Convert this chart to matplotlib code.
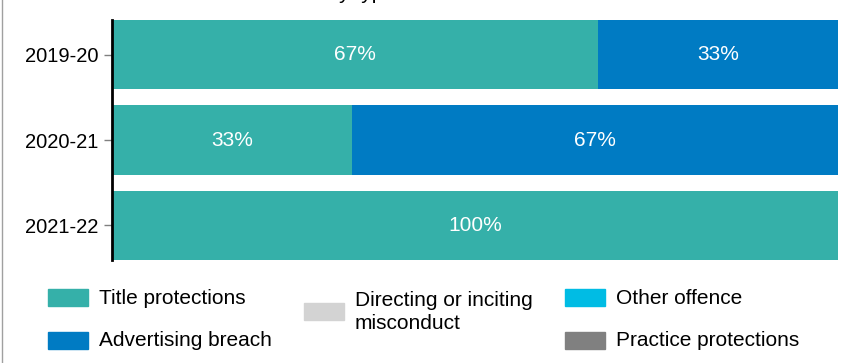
import matplotlib.pyplot as plt
from matplotlib.patches import Rectangle
from matplotlib.lines import Line2D

plt.rcParams['font.family'] = ['Liberation Sans', 'DejaVu Sans']

years = ['2019-20', '2020-21', '2021-22']
title_protections = [67, 33, 100]
advertising_breach = [33, 67, 0]
directing_misconduct = [0, 0, 0]
other_offence = [0, 0, 0]
practice_protections = [0, 0, 0]

series = [
    ('Title protections', title_protections, '#35b0a9'),
    ('Advertising breach', advertising_breach, '#007bc3'),
    ('Directing or inciting\nmisconduct', directing_misconduct, '#d3d3d3'),
    ('Other offence', other_offence, '#00bce4'),
    ('Practice protections', practice_protections, '#808080'),
]


def draw_chart():
    fig = plt.figure(figsize=(8.54, 3.63), dpi=100, facecolor='white')
    ax = fig.add_axes([112 / 854, 1 - 260 / 363, 726 / 854, 240 / 363])

    pos = list(range(len(years)))
    left = [0] * len(years)
    for name, vals, color in series:
        bars = ax.barh(pos, vals, left=left, height=0.81, color=color,
                       edgecolor='none')
        for b, v in zip(bars, vals):
            if v > 0:
                ax.text(b.get_x() + b.get_width() / 2, b.get_y() + b.get_height() / 2,
                        '%d%%' % v, ha='center', va='center', color='white',
                        fontsize=15)
        left = [l + v for l, v in zip(left, vals)]

    ax.set_xlim(0, 100)
    ax.set_ylim(2.405, -0.405)
    ax.set_yticks(pos)
    ax.set_yticklabels(years, fontsize=14.5)
    ax.set_xticks([])
    for s in ['top', 'right', 'bottom']:
        ax.spines[s].set_visible(False)
    ax.spines['left'].set_linewidth(2)
    ax.spines['left'].set_color('black')
    ax.tick_params(axis='y', length=6, width=1, color='#808080', pad=4)

    # legend drawn by hand, three columns
    w, h = 40 / 854, 17 / 363
    items = [
        (48, 297, 0), (48, 340, 1),
        (304, 311, 2),
        (565, 297, 3), (565, 340, 4),
    ]
    for px, py, i in items:
        name, _, color = series[i]
        fig.patches.append(Rectangle((px / 854, 1 - py / 363 - h / 2), w, h,
                                     transform=fig.transFigure, color=color))
        fig.text((px + 51) / 854, 1 - (py + 1) / 363, name, fontsize=15,
                 va='center', ha='left', linespacing=1.3)

    # frame line on the left
    fig.lines.append(Line2D([2 / 854, 2 / 854], [0, 1], transform=fig.transFigure,
                            color='#a0a0a0', linewidth=1))

    # title sits just above the visible area
    fig.text(395 / 854, 1 + 0.6 / 363, 'Prosecutions by type', fontsize=15,
             ha='right', va='baseline')

    fig.savefig('out.png', dpi=100)


if __name__ == '__main__':
    draw_chart()
